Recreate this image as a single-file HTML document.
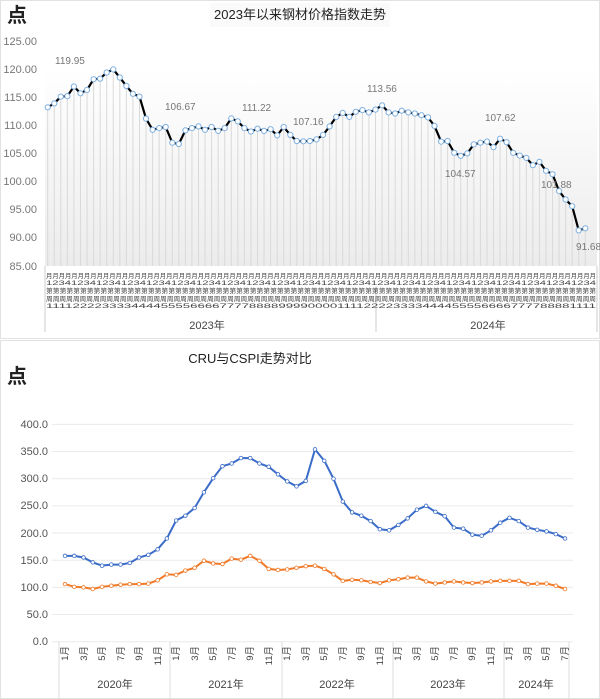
<!DOCTYPE html>
<html><head><meta charset="utf-8">
<style>
html,body{margin:0;padding:0;background:#fff;}
svg{display:block;font-family:"Liberation Sans","Noto Sans CJK SC",sans-serif;}
</style></head>
<body>
<svg id="s" width="600" height="699" viewBox="0 0 600 699" xmlns="http://www.w3.org/2000/svg">
<defs>
<linearGradient id="g1" x1="0" y1="0" x2="0" y2="1">
<stop offset="0" stop-color="#ffffff"/><stop offset="1" stop-color="#ececec"/>
</linearGradient>
</defs>
<rect x="0.5" y="0.5" width="599" height="338" fill="#fff" stroke="#e2e2e2"/>
<rect x="0.5" y="340.5" width="599" height="358" fill="#fff" stroke="#e2e2e2"/>
<!-- chart 1 -->
<text x="7" y="22" font-size="20" font-weight="bold" fill="#222">点</text>
<rect x="210" y="3" width="180" height="24" fill="#fafafa"/>
<text x="300" y="19" font-size="13" text-anchor="middle" fill="#222">2023年以来钢材价格指数走势</text>
<rect x="45" y="68" width="552" height="198" fill="url(#g1)"/>
<g font-size="11" fill="#777" text-anchor="end">
<text x="37" y="45">125.00</text><text x="37" y="73">120.00</text><text x="37" y="101">115.00</text>
<text x="37" y="129">110.00</text><text x="37" y="157">105.00</text><text x="37" y="185">100.00</text>
<text x="37" y="213">95.00</text><text x="37" y="241">90.00</text><text x="37" y="270">85.00</text>
</g>
<g id="drops" stroke="#d9d9d9" stroke-width="1"></g>
<polyline id="l1" fill="none" stroke="#000" stroke-width="2.2"/>
<g id="m1" fill="#fff" stroke="#7fb0e0" stroke-width="1"></g>
<g font-size="10" fill="#777">
<text x="55" y="64">119.95</text><text x="165" y="110">106.67</text><text x="242" y="111">111.22</text>
<text x="293" y="125">107.16</text><text x="367" y="92">113.56</text><text x="445" y="177">104.57</text>
<text x="485" y="121">107.62</text><text x="541" y="188">101.88</text><text x="576" y="250">91.68</text>
</g>
<line x1="45" y1="266" x2="45" y2="332" stroke="#ccc"/>
<line x1="376" y1="286" x2="376" y2="332" stroke="#ccc"/>
<line x1="597" y1="266" x2="597" y2="332" stroke="#ccc"/>
<g font-size="6.5" fill="#444">
<text x="46" y="278" textLength="550" lengthAdjust="spacingAndGlyphs">月月月月月月月月月月月月月月月月月月月月月月月月月月月月月月月月月月月月月月月月月月月月月月月月月月月月月月月月月月月月月月月月月月月月月月月月月月月月月月月月月月月月月月月</text>
<text x="46" y="285" textLength="550" lengthAdjust="spacingAndGlyphs">1234123412341234123412341234123412341234123412341234123412341234123412341234123412341234</text>
<text x="46" y="293" textLength="550" lengthAdjust="spacingAndGlyphs">第第第第第第第第第第第第第第第第第第第第第第第第第第第第第第第第第第第第第第第第第第第第第第第第第第第第第第第第第第第第第第第第第第第第第第第第第第第第第第第第第</text>
<text x="46" y="301" textLength="550" lengthAdjust="spacingAndGlyphs">周周周周周周周周周周周周周周周周周周周周周周周周周周周周周周周周周周周周周周周周周周周周周周周周周周周周周周周周周周周周周周周周周周周周周周周周周周周周周周周周周周</text>
<text x="46" y="308" textLength="550" lengthAdjust="spacingAndGlyphs">1111222233334444555566667777888899990000111122223333444455556666777788881111</text>
</g>
<text x="207" y="329" font-size="11" fill="#444" text-anchor="middle">2023年</text>
<text x="488" y="329" font-size="11" fill="#444" text-anchor="middle">2024年</text>
<!-- chart 2 -->
<text x="250" y="363" font-size="13" fill="#222" text-anchor="middle">CRU与CSPI走势对比</text>
<text x="7" y="383" font-size="20" font-weight="bold" fill="#222">点</text>
<g id="grid2" stroke="#eaeaea"></g>
<g font-size="11" fill="#555" text-anchor="end">
<text x="48" y="428">400.0</text><text x="48" y="455">350.0</text><text x="48" y="482">300.0</text>
<text x="48" y="509">250.0</text><text x="48" y="537">200.0</text><text x="48" y="564">150.0</text>
<text x="48" y="591">100.0</text><text x="48" y="618">50.0</text><text x="48" y="645">0.0</text>
</g>
<polyline id="cru" fill="none" stroke="#3a6cc8" stroke-width="2"/>
<polyline id="cspi" fill="none" stroke="#f07a28" stroke-width="2"/>
<g id="mc" fill="#fff" stroke-width="0.8"></g>
<g stroke="#ddd">
<line x1="59" y1="642" x2="59" y2="699"/><line x1="170" y1="642" x2="170" y2="699"/>
<line x1="282" y1="642" x2="282" y2="699"/><line x1="393" y1="642" x2="393" y2="699"/>
<line x1="504" y1="642" x2="504" y2="699"/><line x1="569" y1="642" x2="569" y2="699"/>
</g>
<g font-size="9.5" fill="#444">
<text transform="translate(68,646) rotate(-90)" text-anchor="end">1月</text>
<text transform="translate(87,646) rotate(-90)" text-anchor="end">3月</text>
<text transform="translate(105,646) rotate(-90)" text-anchor="end">5月</text>
<text transform="translate(124,646) rotate(-90)" text-anchor="end">7月</text>
<text transform="translate(142,646) rotate(-90)" text-anchor="end">9月</text>
<text transform="translate(161,646) rotate(-90)" text-anchor="end">11月</text>
<text transform="translate(179,646) rotate(-90)" text-anchor="end">1月</text>
<text transform="translate(198,646) rotate(-90)" text-anchor="end">3月</text>
<text transform="translate(216,646) rotate(-90)" text-anchor="end">5月</text>
<text transform="translate(235,646) rotate(-90)" text-anchor="end">7月</text>
<text transform="translate(253,646) rotate(-90)" text-anchor="end">9月</text>
<text transform="translate(272,646) rotate(-90)" text-anchor="end">11月</text>
<text transform="translate(290,646) rotate(-90)" text-anchor="end">1月</text>
<text transform="translate(309,646) rotate(-90)" text-anchor="end">3月</text>
<text transform="translate(327,646) rotate(-90)" text-anchor="end">5月</text>
<text transform="translate(346,646) rotate(-90)" text-anchor="end">7月</text>
<text transform="translate(364,646) rotate(-90)" text-anchor="end">9月</text>
<text transform="translate(383,646) rotate(-90)" text-anchor="end">11月</text>
<text transform="translate(401,646) rotate(-90)" text-anchor="end">1月</text>
<text transform="translate(420,646) rotate(-90)" text-anchor="end">3月</text>
<text transform="translate(438,646) rotate(-90)" text-anchor="end">5月</text>
<text transform="translate(457,646) rotate(-90)" text-anchor="end">7月</text>
<text transform="translate(475,646) rotate(-90)" text-anchor="end">9月</text>
<text transform="translate(494,646) rotate(-90)" text-anchor="end">11月</text>
<text transform="translate(512,646) rotate(-90)" text-anchor="end">1月</text>
<text transform="translate(531,646) rotate(-90)" text-anchor="end">3月</text>
<text transform="translate(549,646) rotate(-90)" text-anchor="end">5月</text>
<text transform="translate(568,646) rotate(-90)" text-anchor="end">7月</text>
</g>
<g font-size="11" fill="#444" text-anchor="middle">
<text x="115" y="688">2020年</text><text x="226" y="688">2021年</text><text x="337" y="688">2022年</text>
<text x="448" y="688">2023年</text><text x="536" y="688">2024年</text>
</g>
</svg>
<script>
var NS="http://www.w3.org/2000/svg";
function el(p,t,a){var e=document.createElementNS(NS,t);for(var k in a)e.setAttribute(k,a[k]);document.getElementById(p).appendChild(e);return e;}
var d1=[113.2,113.9,115.1,115.2,116.9,115.7,116.3,118.2,118.3,119.4,119.95,118.5,117.0,115.6,115.1,111.2,109.2,109.5,109.7,106.9,106.67,109.1,109.5,109.8,109.2,109.7,109.0,109.5,111.22,110.7,109.5,108.9,109.4,109.0,109.3,108.2,109.7,108.3,107.2,
107.16,107.2,107.5,108.3,109.8,111.5,112.2,111.5,112.4,112.7,112.3,112.8,113.56,112.3,112.1,112.6,112.3,112.1,111.8,111.4,109.9,107.1,107.2,105.1,104.57,105.0,106.6,106.9,107.1,106.1,107.62,107.0,105.1,104.6,104.2,102.9,103.5,101.9,101.3,98.3,96.8,95.6,91.3,91.68];
var n=d1.length,pts=[];
for(var i=0;i<n;i++){var x=47.7+i*(585.3-47.7)/(n-1),y=41+(125-d1[i])*5.62;pts.push(x.toFixed(1)+","+y.toFixed(1));
el("drops","line",{x1:x,y1:y,x2:x,y2:266});}
document.getElementById("l1").setAttribute("points",pts.join(" "));
for(var i=0;i<n;i++){var p=pts[i].split(",");el("m1","circle",{cx:p[0],cy:p[1],r:2.6});}
for(var v=0;v<=400;v+=50){var y=641.7-v*0.5433;el("grid2","line",{x1:52,x2:573,y1:y,y2:y});}
var cru=[158,158,155,146,140,142,142,145,155,160,170,190,223,232,246,275,301,323,328,338,338,328,322,308,295,286,296,354,333,300,258,238,232,222,207,205,215,227,243,250,239,231,210,208,197,195,205,219,228,222,210,206,203,198,190];
var cs=[106,101,100,97,101,103,105,106,106,107,113,124,123,131,136,149,144,143,153,151,158,149,134,132,133,136,139,140,134,124,112,114,113,110,108,113,115,118,118,111,107,109,111,109,108,109,111,112,112,112,106,107,107,103,97];
function line(id,d,c){var a=[];for(var i=0;i<d.length;i++){var x=65+i*9.26,y=641.7-d[i]*0.5433;a.push(x.toFixed(1)+","+y.toFixed(1));el("mc","circle",{cx:x,cy:y,r:1.8,stroke:c});}document.getElementById(id).setAttribute("points",a.join(" "));}
line("cru",cru,"#3a6cc8");line("cspi",cs,"#f07a28");
</script>
</body></html>
